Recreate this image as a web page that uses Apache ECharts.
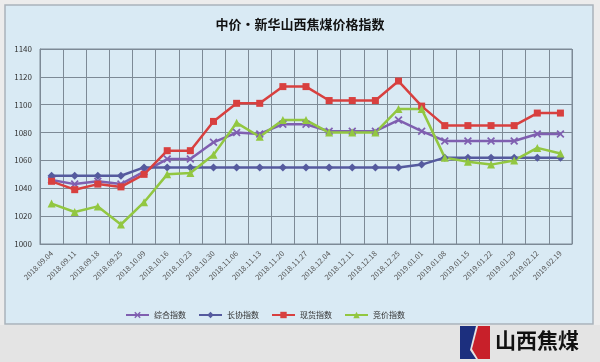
<!DOCTYPE html>
<html><head><meta charset="utf-8">
<script src="https://cdn.jsdelivr.net/npm/echarts@6/dist/echarts.min.js"></script>
<style>html,body{margin:0;padding:0;background:#ececec;}#c{width:600px;height:362px;}</style>
</head><body><div id="c"></div>
<script>
const categories = ['2018.09.04','2018.09.11','2018.09.18','2018.09.25','2018.10.09','2018.10.16','2018.10.23','2018.10.30','2018.11.06','2018.11.13','2018.11.20','2018.11.27','2018.12.04','2018.12.11','2018.12.18','2018.12.25','2019.01.01','2019.01.08','2019.01.15','2019.01.22','2019.01.29','2019.02.12','2019.02.19'];
const composite = [1046,1043,1045,1043,1052,1061,1061,1073,1080,1079,1086,1086,1081,1081,1081,1089,1081,1074,1074,1074,1074,1079,1079];
const longTerm  = [1049,1049,1049,1049,1055,1055,1055,1055,1055,1055,1055,1055,1055,1055,1055,1055,1057,1062,1062,1062,1062,1062,1062];
const spot      = [1045,1039,1043,1041,1050,1067,1067,1088,1101,1101,1113,1113,1103,1103,1103,1117,1099,1085,1085,1085,1085,1094,1094];
const auction   = [1029,1023,1027,1014,1030,1050,1051,1064,1087,1077,1089,1089,1080,1080,1080,1097,1097,1062,1059,1057,1060,1069,1065];
const yTicks = {min:1000, max:1140, interval:20};
const seriesNames = ['综合指数','长协指数','现货指数','竞价指数'];

const chart = echarts.init(document.getElementById('c'), null, {renderer:'canvas'});
const font = '"Noto Sans CJK SC", sans-serif';
const crossPath = 'path://M0,1.5L1.5,0L5,3.5L8.5,0L10,1.5L6.5,5L10,8.5L8.5,10L5,6.5L1.5,10L0,8.5L3.5,5Z';
function mk(name, data, color, symbol, size){
  return {name, type:'line', data, color, symbol, symbolSize:size,
    lineStyle:{width:2.5, color}, itemStyle:{color}, emphasis:{disabled:true}};
}
chart.setOption({
  backgroundColor:'#ececec',
  animation:false,
  graphic:[
    {type:'rect', z:-10, shape:{x:0,y:325,width:600,height:37}, style:{fill:'#e4e4e4'}},
    {type:'rect', z:-5, shape:{x:5,y:5,width:588,height:319}, style:{fill:'#d9eaf4', stroke:'#a9b3bb', lineWidth:1.5}},
    {type:'text', left:'center', top:18, style:{text:'中价•新华山西焦煤价格指数', font:'bold 13px "Noto Sans CJK SC", serif', fill:'#111'}},
    {type:'polygon', shape:{points:[[460,326],[476,326],[470,350],[476,359],[460,359]]}, style:{fill:'#1c2f7e'}},
    {type:'polygon', shape:{points:[[478,326],[490,326],[490,359],[478,359],[472,349]]}, style:{fill:'#c8202a'}},
    {type:'text', left:495, top:330, style:{text:'山西焦煤', font:'bold 21px "Noto Sans CJK SC", sans-serif', fill:'#111'}}
  ],
  grid:{left:40, right:28, top:49, bottom:118, show:true, borderColor:'#7d8a96', borderWidth:1},
  legend:{data:seriesNames.map(n=>({name:n})), left:120, top:306, itemWidth:23, itemHeight:8, itemGap:12,
    textStyle:{fontSize:8, color:'#333', fontFamily:font}},
  xAxis:{type:'category', data:categories, boundaryGap:true,
    axisLine:{lineStyle:{color:'#7d8a96'}}, axisTick:{show:false},
    axisLabel:{rotate:45, fontSize:7.5, color:'#555', interval:0, fontFamily:font, margin:8},
    splitLine:{show:true, interval:0, lineStyle:{color:'#7d8a96', width:1}}},
  yAxis:{type:'value', min:yTicks.min, max:yTicks.max, interval:yTicks.interval,
    axisLine:{show:true, lineStyle:{color:'#7d8a96'}}, axisTick:{show:false},
    axisLabel:{fontSize:8, color:'#333', fontFamily:font, margin:8, formatter:v=>String(v)},
    splitLine:{lineStyle:{color:'#7d8a96', width:1}}},
  series:[
    mk(seriesNames[0], composite, '#7f5fb0', crossPath, 8),
    mk(seriesNames[1], longTerm, '#555a9e', 'diamond', 8),
    mk(seriesNames[2], spot, '#d8403f', 'rect', 7),
    mk(seriesNames[3], auction, '#92c741', 'triangle', 8)
  ]
});
</script></body></html>
